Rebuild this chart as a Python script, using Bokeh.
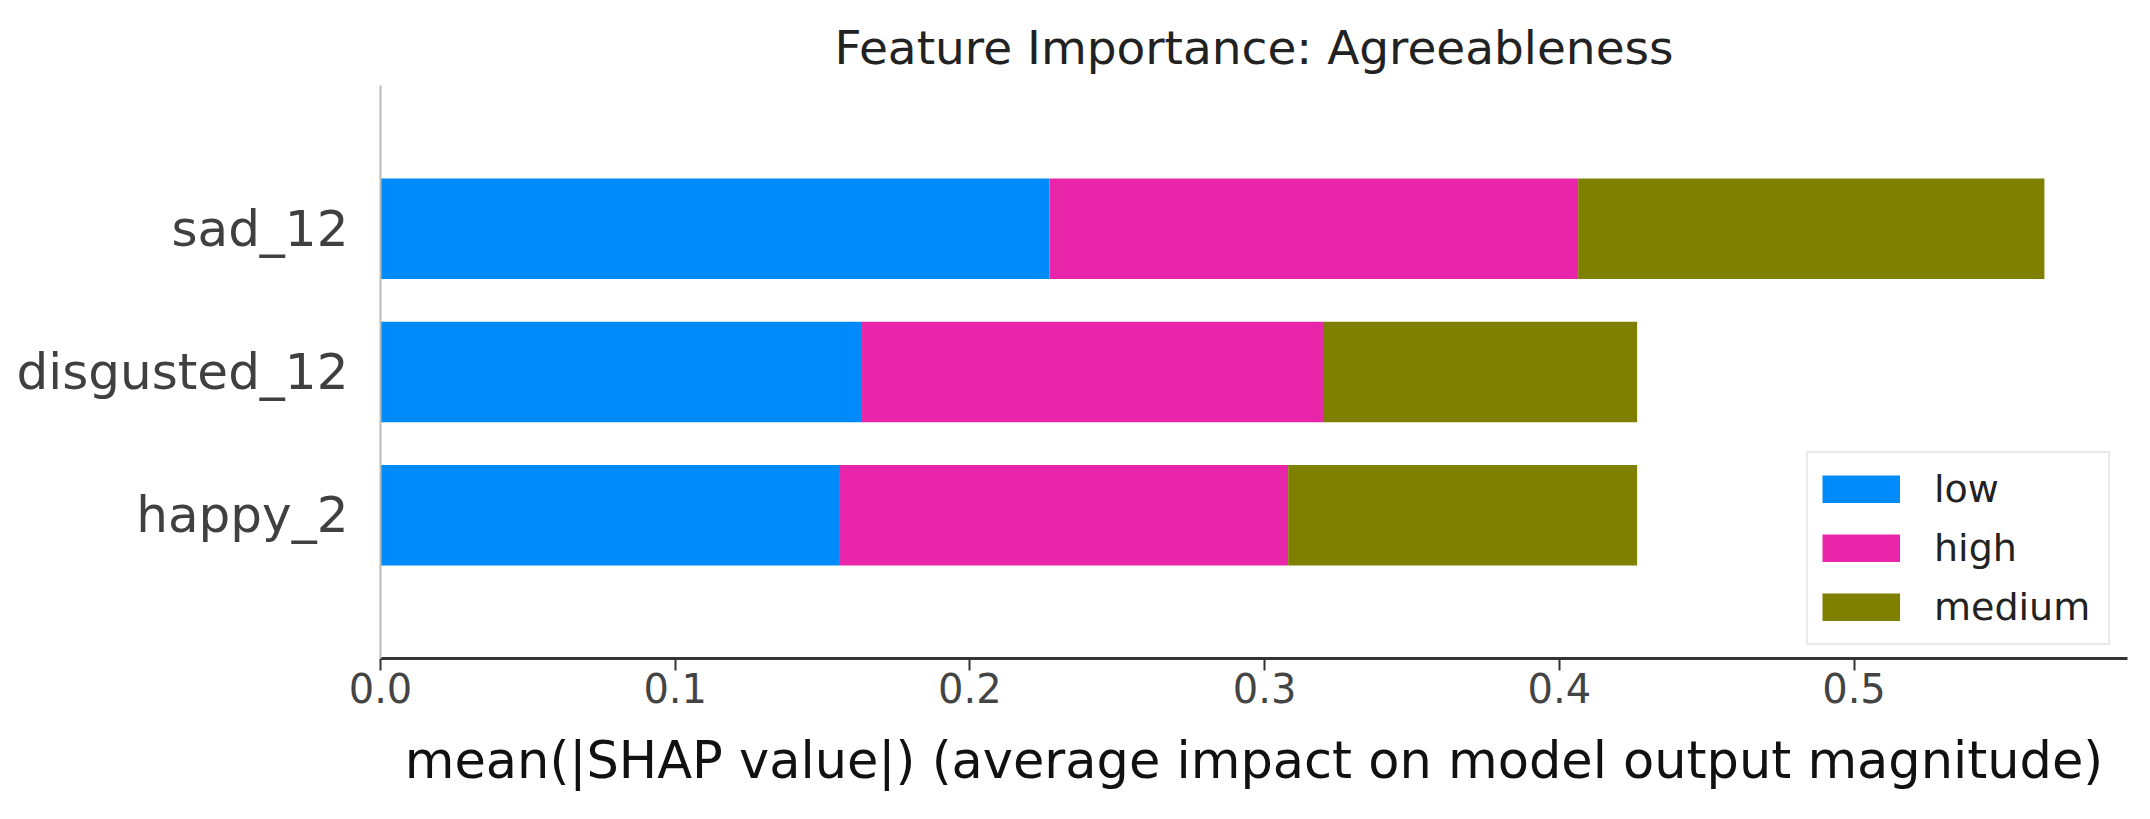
from bokeh.plotting import figure
from bokeh.models import ColumnDataSource, Range1d, FixedTicker, PrintfTickFormatter, Legend
from bokeh.embed import file_html
from bokeh.resources import INLINE

# ---- data ----
features = ["happy_2", "disgusted_12", "sad_12"]
classes = ["low", "high", "medium"]
low = [0.1556, 0.1634, 0.2270]
high = [0.1524, 0.1564, 0.1794]
medium = [0.1184, 0.1066, 0.1582]
colors = ["#008bfb", "#e926a9", "#7f8000"]
x_ticks = [0.0, 0.1, 0.2, 0.3, 0.4, 0.5]
title_text = "Feature Importance: Agreeableness"
x_label = "mean(|SHAP value|) (average impact on model output magnitude)"

FONT = "DejaVu Sans"

source = ColumnDataSource(dict(y=list(range(len(features))), low=low, high=high, medium=medium))

p = figure(width=2134, height=803, output_backend="svg", toolbar_location=None,
           x_range=Range1d(0, 0.5928), y_range=Range1d(-1, 3),
           title=title_text)
p.min_border_left = 380
p.min_border_right = 7
p.min_border_top = 85
p.min_border_bottom = 145
p.outline_line_color = None
p.background_fill_color = "white"
p.border_fill_color = "white"
p.xgrid.visible = False
p.ygrid.visible = False

p.title.text_font = FONT
p.title.text_font_size = "47px"
p.title.text_font_style = "normal"
p.title.text_color = "#222222"
p.title.align = "center"
p.title.standoff = 22

p.hbar_stack(classes, y="y", height=0.7, source=source, color=colors, line_color=None)

# legend swatches: off-screen line renderers drawn as thick bars in the legend
legend_items = []
for c, col in zip(classes, colors):
    r = p.line(x=[-10, -9], y=[-10, -10], line_color=col, line_width=28, line_cap="butt")
    legend_items.append((c, [r]))

legend = Legend(items=legend_items, location=(1426, 13))
legend.label_text_font = FONT
legend.label_text_font_size = "38px"
legend.label_text_color = "#222222"
legend.glyph_width = 78
legend.glyph_height = 28
legend.label_standoff = 34
legend.label_width = 160
legend.spacing = 15
legend.padding = 14
legend.margin = 0
legend.border_line_color = "#d4d4d4"
legend.border_line_width = 2
legend.background_fill_alpha = 1
p.add_layout(legend, "center")

# x axis
xa = p.xaxis[0]
xa.ticker = FixedTicker(ticks=x_ticks)
xa.formatter = PrintfTickFormatter(format="%.1f")
xa.minor_tick_line_color = None
xa.major_tick_in = 0
xa.major_tick_out = 12
xa.major_tick_line_color = "#333333"
xa.major_tick_line_width = 2
xa.axis_line_color = "#333333"
xa.axis_line_width = 3
xa.major_label_text_font = FONT
xa.major_label_text_font_size = "40px"
xa.major_label_text_color = "#444444"
xa.major_label_standoff = 2
xa.axis_label = x_label
xa.axis_label_text_font = FONT
xa.axis_label_text_font_size = "51px"
xa.axis_label_text_font_style = "normal"
xa.axis_label_text_color = "#111111"
xa.axis_label_standoff = 25

# y axis
ya = p.yaxis[0]
ya.ticker = FixedTicker(ticks=list(range(len(features))))
ya.major_label_overrides = {i: f for i, f in enumerate(features)}
ya.minor_tick_line_color = None
ya.major_tick_line_color = None
ya.major_tick_in = 0
ya.major_tick_out = 0
ya.axis_line_color = "#bbbbbb"
ya.axis_line_width = 2
ya.major_label_text_font = FONT
ya.major_label_text_font_size = "50px"
ya.major_label_text_color = "#404040"
ya.major_label_standoff = 32

open("out.html", "w").write(file_html(p, INLINE))
